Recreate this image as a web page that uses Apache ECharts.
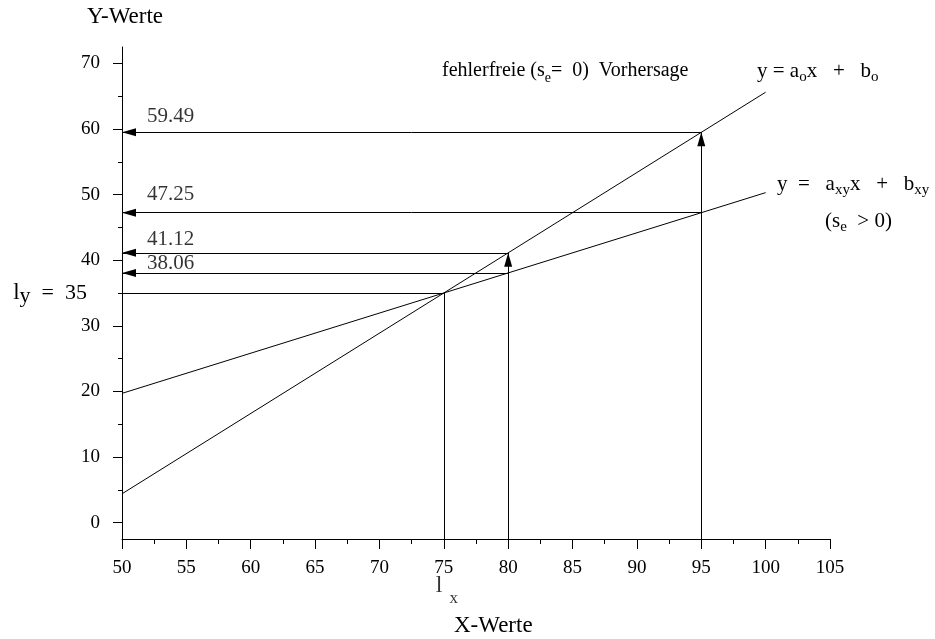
<!DOCTYPE html>
<html>
<head>
<meta charset="utf-8">
<script src="https://cdn.jsdelivr.net/npm/echarts@6/dist/echarts.min.js"></script>
<style>
  html, body { margin: 0; padding: 0; background: #fff; }
  #chart { width: 935px; height: 639px; }
</style>
</head>
<body>
<div id="chart"></div>
<script>
// axis ranges and ticks
const xMin = 50, xMax = 105, xStep = 5;
const yMin = -2.5, yMax = 72.5;
const yTickLabels = [0, 10, 20, 30, 40, 50, 60, 70];
const yMinorTicks = [5, 15, 25, 35, 45, 55, 65];

// the two regression lines (end points)
const lineO = [[50, 4.39], [100, 65.61]];    // y = a_o x + b_o
const lineXY = [[50, 19.70], [100, 50.30]];  // y = a_xy x + b_xy

// read-off arrows to the y axis
const readX = [95, 95, 80, 80];
const readY = [59.49, 47.25, 41.12, 38.06];
// upward arrows from the x axis
const upX = [80, 95];
const upY = [41.12, 59.49];
// means
const lx = 75, ly = 35;

const serif = 'Liberation Serif';
const black = '#000';
// vertical offset of each read-off label above its arrow (px)
const labelLift = [-26, -29, -24, -20];

const smallRich = {
  n: { fontFamily: serif, fontSize: 20, color: black },
  s: { fontFamily: serif, fontSize: 14, color: black, verticalAlign: 'bottom' }
};
const subRich = {
  n: { fontFamily: serif, fontSize: 21, color: black },
  s: { fontFamily: serif, fontSize: 15, color: black, verticalAlign: 'bottom' }
};

const arrowLines = [];
readY.forEach((v, i) => {
  arrowLines.push([{ coord: [readX[i], v] }, { coord: [xMin, v] }]);
});
upX.forEach((v, i) => {
  arrowLines.push([{ coord: [v, yMin] }, { coord: [v, upY[i]] }]);
});

const plainLines = [
  [{ coord: [lx, ly] }, { coord: [xMin, ly] }],
  [{ coord: [lx, yMin] }, { coord: [lx, ly] }]
];

const chart = echarts.init(document.getElementById('chart'));
chart.setOption({
  animation: false,
  backgroundColor: '#fff',
  grid: { left: 122, right: 105, top: 47, bottom: 100, containLabel: false, outerBoundsMode: 'none' },
  xAxis: {
    type: 'value', min: xMin, max: xMax, interval: xStep,
    axisLine: { show: true, onZero: false, lineStyle: { color: black, width: 1 } },
    axisTick: { show: true, length: 10, lineStyle: { color: black } },
    minorTick: { show: true, splitNumber: 2, length: 5, lineStyle: { color: black } },
    axisLabel: { margin: 20, fontFamily: serif, fontSize: 19, color: black },
    splitLine: { show: false }
  },
  yAxis: [{
    type: 'value', min: yMin, max: yMax, position: 'left',
    axisLine: { show: true, onZero: false, lineStyle: { color: black, width: 1 } },
    axisTick: { show: true, length: 9, customValues: yTickLabels, lineStyle: { color: black } },
    axisLabel: {
      margin: 22, fontFamily: serif, fontSize: 19, color: black,
      customValues: yTickLabels.concat([ly]),
      formatter: v => v === ly ? '{l|l}{s|y}{e|  =  ' + ly + '}' : String(v),
      rich: {
        l: { fontFamily: serif, fontSize: 23, color: black, lineHeight: 28 },
        s: { fontFamily: serif, fontSize: 22, color: black, verticalAlign: 'bottom', lineHeight: 28 },
        e: { fontFamily: serif, fontSize: 22, color: black, lineHeight: 28, padding: [0, 13, 0, 0] }
      }
    },
    splitLine: { show: false }
  }, {
    type: 'value', min: yMin, max: yMax, position: 'left',
    axisLine: { show: false },
    axisTick: { show: true, length: 4, customValues: yMinorTicks, lineStyle: { color: black } },
    axisLabel: { show: false },
    splitLine: { show: false }
  }],
  series: [{
    name: 'a_o', type: 'line', data: lineO, symbol: 'none', silent: true,
    lineStyle: { color: black, width: 1 }
  }, {
    name: 'a_xy', type: 'line', data: lineXY, symbol: 'none', silent: true,
    lineStyle: { color: black, width: 1 }
  }, {
    name: 'arrows', type: 'line', data: [], silent: true,
    markLine: {
      silent: true, animation: false,
      symbol: ['none', 'triangle'], symbolSize: [8, 14], symbolOffset: [0, [0, 7]],
      label: { show: false },
      lineStyle: { color: black, width: 1, type: 'solid' },
      itemStyle: { color: black },
      emphasis: { disabled: true },
      data: arrowLines
    }
  }, {
    name: 'means', type: 'line', data: [], silent: true,
    markLine: {
      silent: true, animation: false, symbol: ['none', 'none'],
      label: { show: false },
      lineStyle: { color: black, width: 1, type: 'solid' },
      emphasis: { disabled: true },
      data: plainLines
    }
  }, {
    name: 'values', type: 'scatter', symbolSize: 0, silent: true,
    data: readY.map((v, i) => ({ value: [xMin, v], label: { position: [25, labelLift[i]] } })),
    label: {
      show: true, fontFamily: serif, fontSize: 21, color: black,
      formatter: p => p.value[1].toFixed(2)
    }
  }, {
    name: 'lx', type: 'scatter', symbolSize: 0, silent: true,
    data: [[lx, yMin]],
    label: {
      show: true, position: [-8, 35], lineHeight: 33,
      formatter: '{l|l}{s|x}',
      rich: {
        l: { fontFamily: serif, fontSize: 24, color: black, verticalAlign: 'top' },
        s: { fontFamily: serif, fontSize: 17, color: black, verticalAlign: 'bottom', padding: [0, 0, 0, 7] }
      }
    }
  }],
  graphic: [{
    type: 'text', left: 87, top: 5,
    style: { text: 'Y-Werte', fontFamily: serif, fontSize: 23, fill: black }
  }, {
    type: 'text', left: 454, top: 614,
    style: { text: 'X-Werte', fontFamily: serif, fontSize: 23, fill: black }
  }, {
    type: 'text', left: 442, top: 57,
    style: {
      text: '{n|fehlerfreie (s}{s|e}{n|=  0)  Vorhersage}',
      lineHeight: 28, rich: smallRich
    }
  }, {
    type: 'text', left: 757, top: 57,
    style: {
      text: '{n|y = a}{s|o}{n|x   +   b}{s|o}',
      lineHeight: 28, rich: subRich
    }
  }, {
    type: 'text', left: 777, top: 170,
    style: {
      text: '{n|y  =   a}{s|xy}{n|x   +   b}{s|xy}',
      lineHeight: 28, rich: subRich
    }
  }, {
    type: 'text', left: 825, top: 207,
    style: {
      text: '{n|(s}{s|e}{n|  > 0)}',
      lineHeight: 28, rich: subRich
    }
  }]
});
</script>
</body>
</html>
